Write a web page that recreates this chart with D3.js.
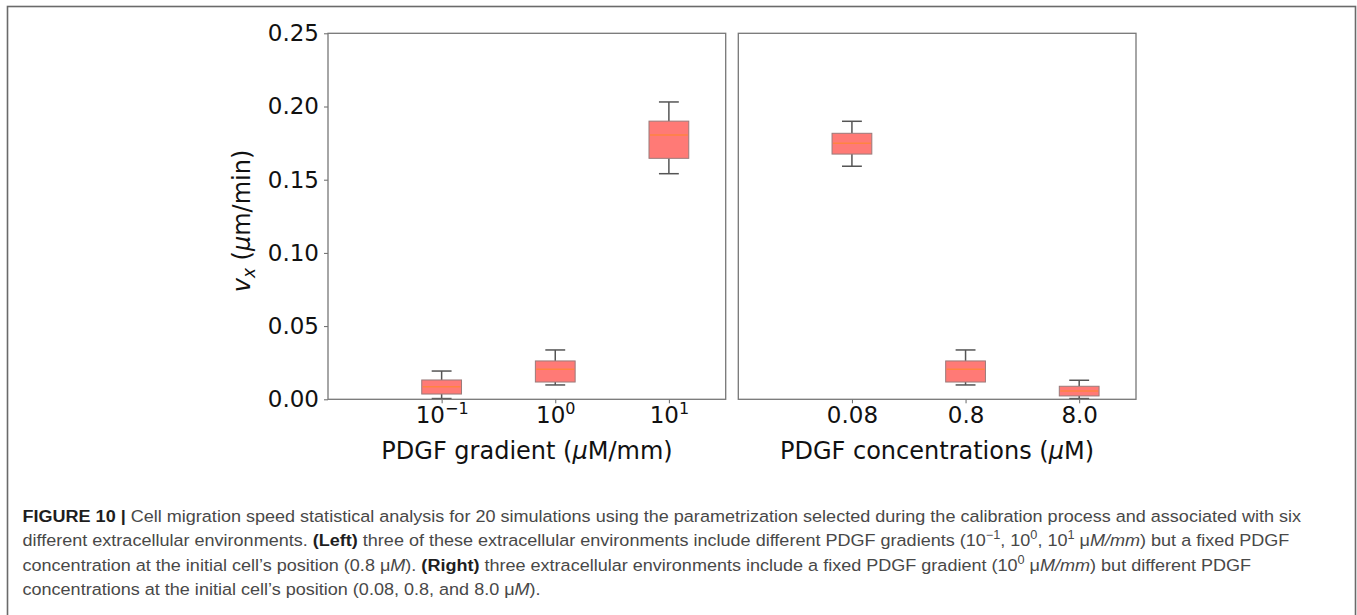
<!DOCTYPE html>
<html><head><meta charset="utf-8">
<script src="https://cdn.jsdelivr.net/npm/d3@7"></script>
<style>body{margin:0;background:#fff;} svg{display:block;}</style>
</head><body>
<script>
// ---- data ----
const yTicks = [0, 0.05, 0.10, 0.15, 0.20, 0.25];
const positions = [1, 2, 3];
const leftTickBase = ["10", "10", "10"];
const leftTickExp = ["\u22121", "0", "1"];
const rightTickLabels = ["0.08", "0.8", "8.0"];

const leftWhiskerLow  = [0.0005, 0.0098, 0.1541];
const leftQ1          = [0.0036, 0.0118, 0.1646];
const leftMedian      = [0.0086, 0.0205, 0.1805];
const leftQ3          = [0.0132, 0.0262, 0.1900];
const leftWhiskerHigh = [0.0193, 0.0337, 0.2031];

const rightWhiskerLow  = [0.1592, 0.0098, 0.0005];
const rightQ1          = [0.1675, 0.0118, 0.0023];
const rightMedian      = [0.1749, 0.0205, 0.0057];
const rightQ3          = [0.1817, 0.0262, 0.0089];
const rightWhiskerHigh = [0.1899, 0.0337, 0.0130];

const W = 1357, H = 615;
const svg = d3.select("body").append("svg").attr("width", W).attr("height", H);

// outer figure border
svg.append("rect").attr("x", 7.5).attr("y", 6.5).attr("width", 1348).attr("height", 640)
  .attr("fill", "none").attr("stroke", "#6a6a6a").attr("stroke-width", 1.6);

const y = d3.scaleLinear().domain([0, 0.25]).range([399.3, 33.3]);
const FONT = "'DejaVu Sans', sans-serif";

function panel(x0, x1, stats, isLeft) {
  const x = d3.scaleLinear().domain([0, 3.5]).range([x0, x1]);
  const g = svg.append("g");
  const boxW = x(0.35) - x(0);
  const capW = x(0.175) - x(0);
  const data = positions.map((p, i) => ({
    p, lo: stats.lo[i], q1: stats.q1[i], med: stats.med[i], q3: stats.q3[i], hi: stats.hi[i]
  }));
  const b = g.selectAll("g.box").data(data).join("g").attr("class", "box");
  // whiskers
  b.append("line").attr("x1", d => x(d.p)).attr("x2", d => x(d.p))
    .attr("y1", d => y(d.q3)).attr("y2", d => y(d.hi)).attr("stroke", "#555").attr("stroke-width", 1.5);
  b.append("line").attr("x1", d => x(d.p)).attr("x2", d => x(d.p))
    .attr("y1", d => y(d.q1)).attr("y2", d => y(d.lo)).attr("stroke", "#555").attr("stroke-width", 1.5);
  b.append("line").attr("x1", d => x(d.p) - capW / 2).attr("x2", d => x(d.p) + capW / 2)
    .attr("y1", d => y(d.hi)).attr("y2", d => y(d.hi)).attr("stroke", "#555").attr("stroke-width", 1.5);
  b.append("line").attr("x1", d => x(d.p) - capW / 2).attr("x2", d => x(d.p) + capW / 2)
    .attr("y1", d => y(d.lo)).attr("y2", d => y(d.lo)).attr("stroke", "#555").attr("stroke-width", 1.5);
  // box
  b.append("rect").attr("x", d => x(d.p) - boxW / 2).attr("width", boxW)
    .attr("y", d => y(d.q3)).attr("height", d => y(d.q1) - y(d.q3))
    .attr("fill", "#ff7a76").attr("stroke", "#9a7a7a").attr("stroke-width", 1);
  // median
  b.append("line").attr("x1", d => x(d.p) - boxW / 2 + 1).attr("x2", d => x(d.p) + boxW / 2 - 1)
    .attr("y1", d => y(d.med)).attr("y2", d => y(d.med)).attr("stroke", "#ff8440").attr("stroke-width", 1.5);

  // x axis
  const xa = g.append("g").attr("transform", `translate(0,${y(0)})`)
    .call(d3.axisBottom(x).tickValues(positions).tickSize(4).tickFormat(""));
  xa.select(".domain").remove();
  xa.selectAll(".tick line").attr("stroke", "#666");
  xa.selectAll(".tick").each(function (d, i) {
    const t = d3.select(this).append("text").attr("y", 24).attr("dy", 0)
      .attr("fill", "#111").attr("font-family", FONT).attr("font-size", 23)
      .attr("text-anchor", "middle");
    if (isLeft) {
      t.append("tspan").text(leftTickBase[i]);
      t.append("tspan").attr("dy", -9).attr("font-size", 16).text(leftTickExp[i]);
    } else {
      t.text(rightTickLabels[i]);
    }
  });

  if (isLeft) {
    const ya = g.append("g").attr("transform", `translate(${x0},0)`)
      .call(d3.axisLeft(y).tickValues(yTicks).tickSize(4).tickPadding(5).tickFormat(d3.format(".2f")));
    ya.select(".domain").remove();
    ya.selectAll(".tick line").attr("stroke", "#666");
    ya.selectAll(".tick text").attr("fill", "#111").attr("font-family", FONT).attr("font-size", 23);
  }

  // frame
  g.append("rect").attr("x", x0).attr("y", y(0.25)).attr("width", x1 - x0).attr("height", y(0) - y(0.25))
    .attr("fill", "none").attr("stroke", "#777").attr("stroke-width", 1.3);
  return x;
}

panel(328, 725.7, {lo: leftWhiskerLow, q1: leftQ1, med: leftMedian, q3: leftQ3, hi: leftWhiskerHigh}, true);
panel(738.3, 1136, {lo: rightWhiskerLow, q1: rightQ1, med: rightMedian, q3: rightQ3, hi: rightWhiskerHigh}, false);

// axis labels
const xl1 = svg.append("text").attr("x", 527).attr("y", 459).attr("text-anchor", "middle")
  .attr("font-family", FONT).attr("font-size", 24).attr("fill", "#111");
xl1.append("tspan").text("PDGF gradient (");
xl1.append("tspan").attr("font-style", "italic").text("\u03bc");
xl1.append("tspan").text("M/mm)");
const xl2 = svg.append("text").attr("x", 937).attr("y", 459).attr("text-anchor", "middle")
  .attr("font-family", FONT).attr("font-size", 24).attr("fill", "#111");
xl2.append("tspan").text("PDGF concentrations (");
xl2.append("tspan").attr("font-style", "italic").text("\u03bc");
xl2.append("tspan").text("M)");

const yl = svg.append("text").attr("transform", "translate(250,221) rotate(-90)").attr("text-anchor", "middle")
  .attr("font-family", FONT).attr("font-size", 24).attr("fill", "#111");
yl.append("tspan").attr("font-style", "italic").text("v");
yl.append("tspan").attr("font-style", "italic").attr("font-size", 17).attr("dy", 5).text("x");
yl.append("tspan").attr("dy", -5).text(" (");
yl.append("tspan").attr("font-style", "italic").text("\u03bc");
yl.append("tspan").text("m/min)");

// caption
const capLines = [
  [{t: "FIGURE 10 | ", b: 1}, {t: "Cell migration speed statistical analysis for 20 simulations using the parametrization selected during the calibration process and associated with six"}],
  [{t: "different extracellular environments. "}, {t: "(Left)", b: 1}, {t: " three of these extracellular environments include different PDGF gradients (10"}, {t: "\u22121", s: 1}, {t: ", 10"}, {t: "0", s: 1}, {t: ", 10"}, {t: "1", s: 1}, {t: " \u03bc"}, {t: "M/mm", i: 1}, {t: ") but a fixed PDGF"}],
  [{t: "concentration at the initial cell\u2019s position (0.8 \u03bc"}, {t: "M", i: 1}, {t: "). "}, {t: "(Right)", b: 1}, {t: " three extracellular environments include a fixed PDGF gradient (10"}, {t: "0", s: 1}, {t: " \u03bc"}, {t: "M/mm", i: 1}, {t: ") but different PDGF"}],
  [{t: "concentrations at the initial cell\u2019s position (0.08, 0.8, and 8.0 \u03bc"}, {t: "M", i: 1}, {t: ")."}]
];
const capG = [];
capLines.forEach((segs, li) => {
  const g = svg.append("g").attr("transform", `translate(22.5,${522 + li * 24.3})`);
  const t = g.append("text").attr("x", 0).attr("y", 0).attr("font-family", "'Liberation Sans', Arial, sans-serif")
    .attr("font-size", 17).attr("fill", "#484848").style("white-space", "pre");
  let up = false;
  segs.forEach(s => {
    const ts = t.append("tspan").text(s.t);
    if (s.b) ts.attr("font-weight", "bold").attr("fill", "#1e1e1e");
    if (s.i) ts.attr("font-style", "italic");
    if (s.s && !up) { ts.attr("dy", -7).attr("font-size", 12); up = true; }
    else if (s.s && up) { ts.attr("font-size", 12); }
    else if (!s.s && up) { ts.attr("dy", 7); up = false; }
  });
  capG.push({g, t});
});
const natural = capG[0].t.node().getComputedTextLength();
const sx = 1279.5 / natural;
capG.forEach((c, li) => c.g.attr("transform", `translate(22.5,${522 + li * 24.3}) scale(${sx},1)`));
</script>
</body></html>
